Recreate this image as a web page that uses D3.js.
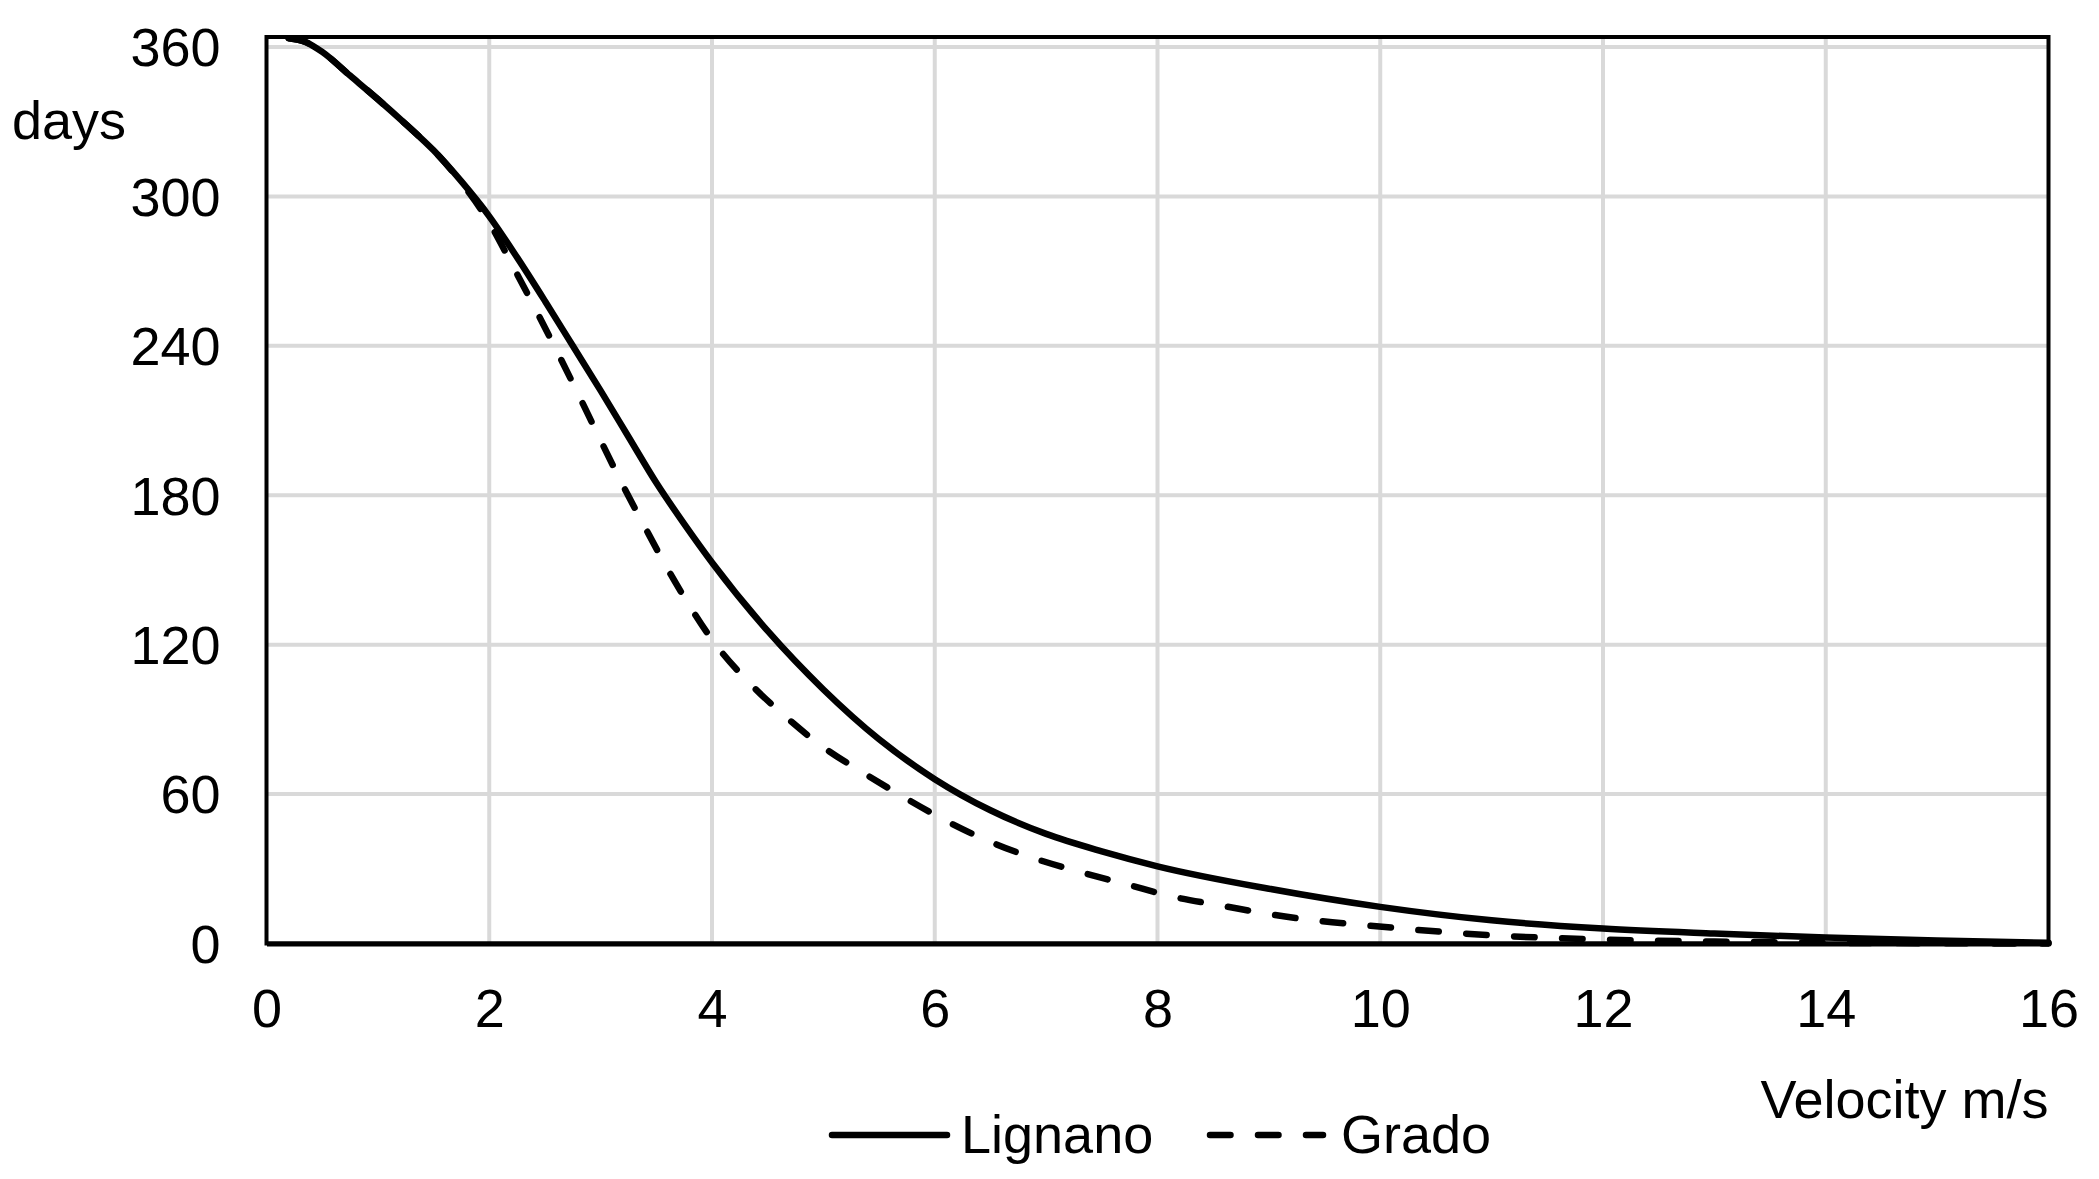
<!DOCTYPE html>
<html>
<head>
<meta charset="utf-8">
<script src="https://cdn.jsdelivr.net/npm/d3@7"></script>
<style>
  body { margin: 0; background: #fff; }
  text { font-family: "Liberation Sans", Arial, sans-serif; fill: #000; }
</style>
</head>
<body>
<svg width="2099" height="1179"></svg>
<script>
// values
const xTicks = [0, 2, 4, 6, 8, 10, 12, 14, 16];
const yTicks = [0, 60, 120, 180, 240, 300, 360];

const velocityLignano = [0.2, 0.35, 0.5, 0.75, 1.0, 1.25, 1.5, 1.75, 2.0, 2.25, 2.5, 2.75, 3.0, 3.25, 3.5, 3.75, 4.0, 4.5, 5.0, 5.5, 6.0, 6.5, 7.0, 7.5, 8.0, 9.0, 10.0, 11.0, 12.0, 13.0, 14.0, 15.0, 16.0];
const daysLignano = [363.5, 362, 358, 348.5, 339, 329, 318.5, 306, 292, 275.5, 258, 240, 222, 203.5, 185, 168.5, 153, 125.5, 102, 82, 66, 53.5, 44, 37, 31, 22, 14.7, 9.3, 6, 4, 2.4, 1.2, 0.3];

const velocityGrado = [0.2, 0.35, 0.5, 0.75, 1.0, 1.25, 1.5, 1.75, 2.0, 2.2, 2.4, 2.6, 2.8, 3.0, 3.2, 3.4, 3.6, 3.8, 4.0, 4.35, 4.65, 5.0, 5.36, 5.72, 6.1, 6.5, 6.9, 7.3, 7.75, 8.15, 8.6, 9.0, 9.45, 9.9, 11, 12, 13, 14, 15, 16];
const daysGrado = [363.5, 362, 358, 348.5, 339, 329, 318.5, 305.5, 289.5, 273, 256, 238.5, 220.5, 202, 184, 167, 150.5, 135.5, 122, 104, 91.5, 78.8, 68.5, 58.8, 49.3, 40.8, 34.1, 28.8, 23.4, 18.7, 15, 11.8, 9.1, 7.2, 3.3, 1.6, 0.8, 0.3, 0.1, 0];

const seriesNames = ["Lignano", "Grado"];

const svg = d3.select("svg");
const plot = { left: 266.5, right: 2048.5, top: 37, bottom: 943.5 };

const x = d3.scaleLinear().domain([0, 16]).range([plot.left, plot.right]);
const y = d3.scaleLinear().domain([0, 364]).range([plot.bottom, plot.top]);

// gridlines
svg.append("g")
   .selectAll("line.gx")
   .data(xTicks.slice(1, -1))
   .enter()
   .append("line")
   .attr("x1", d => x(d)).attr("x2", d => x(d))
   .attr("y1", plot.top).attr("y2", plot.bottom)
   .attr("stroke", "#d9d9d9").attr("stroke-width", 4);

svg.append("g")
   .selectAll("line.gy")
   .data(yTicks.slice(1))
   .enter()
   .append("line")
   .attr("x1", plot.left).attr("x2", plot.right)
   .attr("y1", d => y(d)).attr("y2", d => y(d))
   .attr("stroke", "#d9d9d9").attr("stroke-width", 4);

// plot border
svg.append("rect")
   .attr("x", plot.left).attr("y", plot.top)
   .attr("width", plot.right - plot.left)
   .attr("height", plot.bottom - plot.top)
   .attr("fill", "none").attr("stroke", "#000").attr("stroke-width", 4);

// axes (labels only, no tick marks)
const xAxis = svg.append("g")
   .attr("transform", `translate(0,${plot.bottom})`)
   .call(d3.axisBottom(x).tickValues(xTicks).tickSize(0).tickPadding(0));
xAxis.select(".domain").attr("stroke", "#000").attr("stroke-width", 5);
xAxis.selectAll("text")
     .attr("y", 83.5).attr("dy", null)
     .style("font-size", "54px");

const yAxis = svg.append("g")
   .attr("transform", `translate(${plot.left},0)`)
   .call(d3.axisLeft(y).tickValues(yTicks).tickSize(0).tickPadding(0));
yAxis.select(".domain").remove();
yAxis.selectAll("text")
     .attr("x", -46).attr("dy", "0.35em")
     .style("font-size", "54px");

// series
const line = d3.line()
               .x(d => x(d[0]))
               .y(d => y(d[1]))
               .curve(d3.curveMonotoneX);

svg.append("path")
   .datum(d3.zip(velocityLignano, daysLignano))
   .attr("d", line)
   .attr("fill", "none").attr("stroke", "#000")
   .attr("stroke-width", 6.5).attr("stroke-linecap", "round");

svg.append("path")
   .datum(d3.zip(velocityGrado, daysGrado))
   .attr("d", line)
   .attr("fill", "none").attr("stroke", "#000")
   .attr("stroke-width", 6.5).attr("stroke-linecap", "round")
   .attr("stroke-dasharray", "20.5,27.5");

// axis titles
svg.append("text")
   .attr("x", 12).attr("y", 139)
   .style("font-size", "54px")
   .text("days");

svg.append("text")
   .attr("x", plot.right).attr("y", 1118)
   .attr("text-anchor", "end")
   .style("font-size", "54px")
   .text("Velocity m/s");

// legend
const legend = svg.append("g");
legend.append("line")
      .attr("x1", 832).attr("x2", 947).attr("y1", 1135).attr("y2", 1135)
      .attr("stroke", "#000").attr("stroke-width", 6.5).attr("stroke-linecap", "round");
legend.append("text")
      .attr("x", 961).attr("y", 1153)
      .style("font-size", "54px")
      .text(seriesNames[0]);
legend.append("line")
      .attr("x1", 1210).attr("x2", 1323).attr("y1", 1135).attr("y2", 1135)
      .attr("stroke", "#000").attr("stroke-width", 6.5).attr("stroke-linecap", "round")
      .attr("stroke-dasharray", "20.5,27.5");
legend.append("text")
      .attr("x", 1341).attr("y", 1153)
      .style("font-size", "54px")
      .text(seriesNames[1]);
</script>
</body>
</html>
